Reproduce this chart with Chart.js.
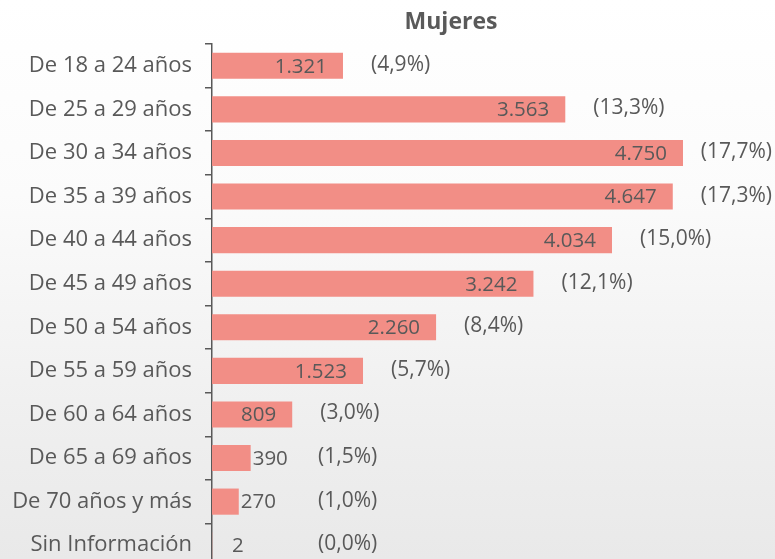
<!DOCTYPE html>
<html>
<head>
<meta charset="utf-8">
<script src="https://cdn.jsdelivr.net/npm/chart.js@4.4.1/dist/chart.umd.min.js"></script>
<style>
  html, body { margin: 0; padding: 0; overflow: hidden; }
  body {
    width: 775px; height: 559px;
    background: linear-gradient(180deg, #ffffff 0%, #fbfbfb 35%, #efefef 75%, #e9e9e9 100%);
  }
  #wrap { position: relative; width: 775px; height: 580px; }
</style>
</head>
<body>
<div id="wrap"><canvas id="myChart" width="775" height="580"></canvas></div>
<script>
var categorias = ["De 18 a 24 años", "De 25 a 29 años", "De 30 a 34 años", "De 35 a 39 años",
                  "De 40 a 44 años", "De 45 a 49 años", "De 50 a 54 años", "De 55 a 59 años",
                  "De 60 a 64 años", "De 65 a 69 años", "De 70 años y más", "Sin Información"];
var mujeres = [1321, 3563, 4750, 4647, 4034, 3242, 2260, 1523, 809, 390, 270, 2];
var porcentajes = ["(4,9%)", "(13,3%)", "(17,7%)", "(17,3%)", "(15,0%)", "(12,1%)",
                   "(8,4%)", "(5,7%)", "(3,0%)", "(1,5%)", "(1,0%)", "(0,0%)"];
var titulo = "Mujeres";

var gris = "#595959";
var fuente = "'Open Sans', 'DejaVu Sans', sans-serif";

function formatoMiles(n) {
    return n.toString().replace(/\B(?=(\d{3})+(?!\d))/g, ".");
}

// etiquetas de valor, porcentaje y titulo
var etiquetas = {
    id: 'etiquetas',
    afterDatasetsDraw: function(chart) {
        var ctx = chart.ctx;
        var meta = chart.getDatasetMeta(0);
        var area = chart.chartArea;
        ctx.save();
        ctx.fillStyle = gris;
        ctx.textBaseline = 'middle';
        meta.data.forEach(function(bar, i) {
            var v = mujeres[i];
            var txt = formatoMiles(v);
            ctx.font = "20.5px " + fuente;
            if (v >= 800) {
                ctx.textAlign = 'right';
                ctx.fillText(txt, bar.x - 16, bar.y + 1);
            } else {
                ctx.textAlign = 'left';
                ctx.fillText(txt, Math.max(bar.x + 2, area.left + 20), bar.y + 1);
            }
            ctx.font = "21px " + fuente;
            ctx.textAlign = 'left';
            var w = ctx.measureText(porcentajes[i]).width;
            var px = Math.max(bar.x + 28, area.left + 106);
            px = Math.min(px, chart.width - w - 3);
            ctx.fillText(porcentajes[i], px, bar.y - 1);
        });
        ctx.font = "bold 23px " + fuente;
        ctx.textAlign = 'center';
        ctx.fillText(titulo, 451, 22);
        ctx.restore();
    }
};

var myChart = new Chart(document.getElementById("myChart"), {
    type: 'bar',
    data: {
        labels: categorias,
        datasets: [
            {
                label: titulo,
                backgroundColor: "#F28E86",
                data: mujeres,
                barPercentage: 0.6,
                categoryPercentage: 1.0
            }
        ]
    },
    options: {
        indexAxis: 'y',
        responsive: false,
        animation: false,
        layout: { padding: { top: 44, bottom: 13, left: 0, right: 0 } },
        plugins: {
            legend: { display: false },
            title: { display: false },
            tooltip: { enabled: false }
        },
        scales: {
            x: {
                display: false,
                min: 0,
                max: 5678
            },
            y: {
                afterFit: function(scale) {
                    scale.width = 212;
                    scale.paddingTop = 0;
                    scale.paddingBottom = 0;
                },
                grid: {
                    display: true,
                    drawOnChartArea: false,
                    drawTicks: true,
                    tickLength: 7,
                    color: gris,
                    lineWidth: 1.5,
                    offset: true
                },
                border: { display: true, color: gris, width: 1.5 },
                ticks: {
                    color: gris,
                    padding: 13,
                    font: { family: fuente, size: 22 }
                }
            }
        }
    },
    plugins: [etiquetas]
});
</script>
</body>
</html>
